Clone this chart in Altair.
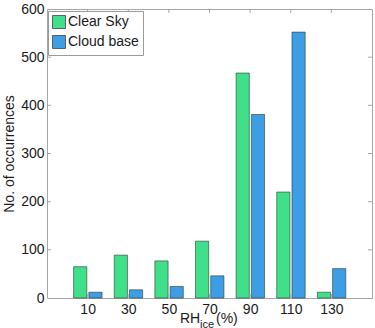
import altair as alt
import pandas as pd

categories = [10, 30, 50, 70, 90, 110, 130]
clear_sky = [65, 89, 77, 118, 467, 220, 12]
cloud_base = [12, 17, 24, 46, 381, 552, 61]
series_names = ["Clear Sky", "Cloud base"]
series_colors = ["#40e08b", "#3d9de5"]
y_ticks = [0, 100, 200, 300, 400, 500, 600]

FONT = "Liberation Sans"
AX = "#a6a6a6"

rows = []
for c, a, b in zip(categories, clear_sky, cloud_base):
    rows.append({"rh": c, "series": series_names[0], "count": a})
    rows.append({"rh": c, "series": series_names[1], "count": b})
df = pd.DataFrame(rows)
xt = pd.DataFrame({"v": categories})
yt = pd.DataFrame({"v": y_ticks[1:-1]})

xscale = alt.Scale(domain=[-10, 150], nice=False, zero=False)
yscale = alt.Scale(domain=[0, 600], nice=False)

bars = alt.Chart(df).transform_calculate(
    x0="datum.series == 'Clear Sky' ? datum.rh - 6.9 : datum.rh + 0.6",
    x1="datum.series == 'Clear Sky' ? datum.rh - 0.4 : datum.rh + 7.1",
).mark_bar(stroke="#2b3b33", strokeWidth=0.8, strokeOpacity=0.75).encode(
    x=alt.X("x0:Q", scale=xscale, axis=alt.Axis(
        values=categories, title=None, ticks=False, domain=False, grid=False,
        labelFontSize=14, labelPadding=4, labelColor="#1a1a1a", labelFont=FONT)),
    x2="x1:Q",
    y=alt.Y("count:Q", scale=yscale, axis=alt.Axis(
        values=y_ticks, title="No. of occurrences", ticks=False, domain=False, grid=False,
        labelFontSize=14, labelPadding=3, labelColor="#1a1a1a", labelFont=FONT,
        titleFontSize=14, titleFont=FONT, titleFontWeight="normal", titleColor="#1a1a1a",
        titlePadding=4)),
    y2=alt.datum(0),
    fill=alt.Fill("series:N", scale=alt.Scale(domain=series_names, range=series_colors),
                  legend=alt.Legend(
                      title=None, orient="none", legendX=1, legendY=2,
                      padding=4, strokeColor="#9a9a9a", fillColor="white",
                      symbolType="square", symbolSize=169, symbolStrokeColor="#444",
                      symbolStrokeWidth=0.8, symbolOpacity=1,
                      labelFontSize=14, labelFont=FONT, labelColor="#1a1a1a",
                      labelOffset=2, rowPadding=2)),
)

top_ticks = alt.Chart(xt).mark_rule(color=AX, strokeWidth=1).encode(
    x=alt.X("v:Q", scale=xscale), y=alt.value(0), y2=alt.value(4))
bot_ticks = alt.Chart(xt).mark_rule(color=AX, strokeWidth=1).encode(
    x=alt.X("v:Q", scale=xscale), y=alt.value(289), y2=alt.value(285))
left_ticks = alt.Chart(yt).mark_rule(color=AX, strokeWidth=1).encode(
    y=alt.Y("v:Q", scale=yscale), x=alt.value(0), x2=alt.value(4))
right_ticks = alt.Chart(yt).mark_rule(color=AX, strokeWidth=1).encode(
    y=alt.Y("v:Q", scale=yscale), x=alt.value(325), x2=alt.value(321))

t_rh = alt.Chart(pd.DataFrame({"t": ["RH"]})).mark_text(
    align="left", baseline="alphabetic", fontSize=14, font=FONT, color="#1a1a1a").encode(
    text="t:N", x=alt.value(133), y=alt.value(314))
t_ice = alt.Chart(pd.DataFrame({"t": ["ice"]})).mark_text(
    align="left", baseline="alphabetic", fontSize=11, font=FONT, color="#1a1a1a").encode(
    text="t:N", x=alt.value(153), y=alt.value(319))
t_pct = alt.Chart(pd.DataFrame({"t": ["(%)"]})).mark_text(
    align="left", baseline="alphabetic", fontSize=14, font=FONT, color="#1a1a1a").encode(
    text="t:N", x=alt.value(169), y=alt.value(314))

chart = alt.layer(bars, top_ticks, bot_ticks, left_ticks, right_ticks, t_rh, t_ice, t_pct).properties(
    width=325, height=289,
    autosize=alt.AutoSizeParams(type="none"),
    padding={"left": 47, "top": 9, "right": 3, "bottom": 30},
    background="white",
).configure_view(stroke=AX, strokeWidth=1)

chart.save("out.html", embed_options={"renderer": "svg", "actions": False})
